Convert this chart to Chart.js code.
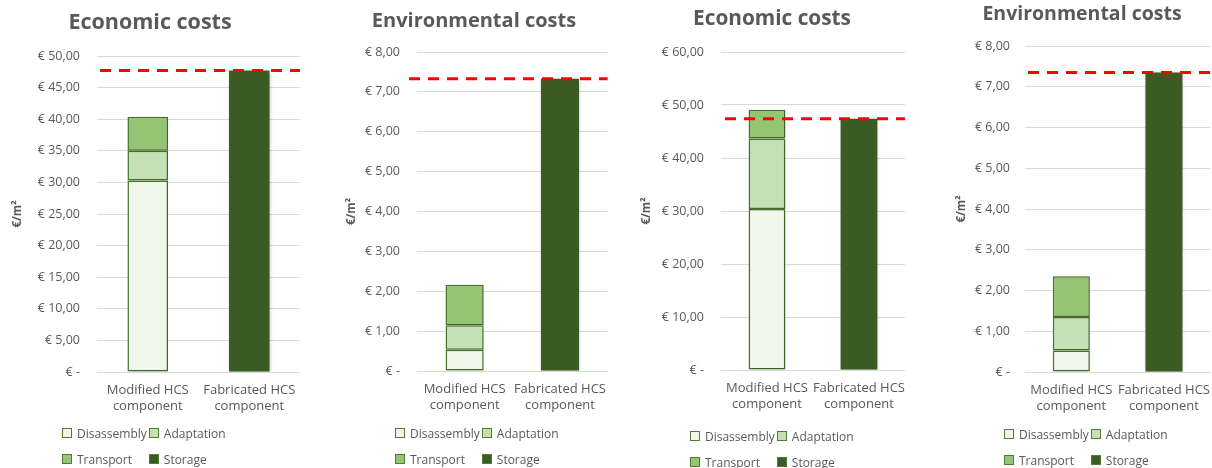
<!DOCTYPE html>
<html>
<head>
<meta charset="utf-8">
<script src="https://cdn.jsdelivr.net/npm/chart.js@4.4.1/dist/chart.umd.min.js"></script>
<style>
  body { margin: 0; width: 1212px; height: 468px; background: #fff; position: relative; overflow: hidden; }
  .panel { position: absolute; top: 0; }
  .legend { position: absolute; display: grid; grid-template-columns: auto auto; column-gap: 2px; row-gap: 8px;
    font-family: 'Open Sans', sans-serif; font-size: 12px; color: #595959; }
  .legend span { display: flex; align-items: center; height: 18px; white-space: nowrap; }
  .legend i { display: inline-block; width: 8px; height: 8px; border: 1px solid #4f7d33; margin-right: 5px; }
</style>
</head>
<body>
<script>
// chart data
const categories = [['Modified HCS', 'component'], ['Fabricated HCS', 'component']];
const seriesNames = ['Disassembly', 'Adaptation', 'Transport', 'Storage'];
const titles = ['Economic costs', 'Environmental costs', 'Economic costs', 'Environmental costs'];
// Disassembly, Adaptation, Transport (modified component) and Storage (fabricated component)
const econ1 = [30.3, 4.7, 5.4, 47.7];
const env1 = [0.53, 0.62, 1.01, 7.33];
const econ2 = [30.4, 13.3, 5.4, 47.4];
const env2 = [0.53, 0.82, 1.0, 7.35];
const refLines = [47.7, 7.33, 47.4, 7.35];
const yMax = [50, 8, 60, 8];
const yStep = [5, 1, 10, 1];

const fills = ['#f0f6ea', '#c5e0b4', '#93c572', '#3b5b24'];
const edge = '#47742c';
const grey = '#595959';

// where each panel sits on the page (chart area left/right/top/bottom)
const panels = [
  { left: 0,   width: 300, areaL: 97,   top: 56, bottom: 372, titleY: 23, titleSize: 21.5, axisPad: 11, tickPad: 17, redFrom: 3,  legendX: 62,   legendY: 424 },
  { left: 340, width: 268, areaL: 417,  top: 52, bottom: 371, titleY: 21, titleSize: 20,   axisPad: 5,  tickPad: 17, redFrom: -8, legendX: 395,  legendY: 424 },
  { left: 637, width: 270, areaL: 721,  top: 52, bottom: 370, titleY: 19, titleSize: 20.8, axisPad: 3,  tickPad: 17, redFrom: 4,  legendX: 690,  legendY: 427 },
  { left: 952, width: 260, areaL: 1025, top: 46, bottom: 372, titleY: 14, titleSize: 19.5, axisPad: 3,  tickPad: 15, redFrom: 3,  legendX: 1004, legendY: 425 }
];
const values = [econ1, env1, econ2, env2];
const canvasH = 430;

const refLinePlugin = {
  id: 'refLine',
  afterDatasetsDraw(chart, args, opts) {
    const { ctx, chartArea, scales } = chart;
    const y = scales.y.getPixelForValue(opts.value);
    ctx.save();
    ctx.strokeStyle = '#ff0000';
    ctx.lineWidth = 3;
    ctx.setLineDash([11, 8]);
    ctx.beginPath();
    ctx.moveTo(chartArea.left + opts.from, y);
    ctx.lineTo(chartArea.right, y);
    ctx.stroke();
    ctx.restore();
  }
};

// soft spreadsheet-style shadow under the bars
const barShadow = {
  id: 'barShadow',
  beforeDatasetsDraw(chart) {
    const ctx = chart.ctx;
    ctx.save();
    ctx.shadowColor = 'rgba(0,0,0,0.22)';
    ctx.shadowBlur = 3;
    ctx.shadowOffsetX = 1;
    ctx.shadowOffsetY = 1;
  },
  afterDatasetsDraw(chart) {
    chart.ctx.restore();
  }
};

function euro(v) {
  if (v === 0) return '€ -';
  return '€ ' + v.toFixed(2).replace('.', ',');
}

panels.forEach((p, k) => {
  const div = document.createElement('div');
  div.className = 'panel';
  div.style.left = p.left + 'px';
  const canvas = document.createElement('canvas');
  canvas.width = p.width;
  canvas.height = canvasH;
  div.appendChild(canvas);
  document.body.appendChild(div);

  const vals = values[k];
  const datasets = seriesNames.map((name, i) => ({
    label: name,
    data: i < 3 ? [vals[i], null] : [null, vals[i]],
    backgroundColor: fills[i],
    borderColor: i < 3 ? edge : fills[i],
    borderWidth: i < 3 ? 1.5 : 0,
    borderSkipped: false,
    barPercentage: 0.4,
    categoryPercentage: 1
  }));

  const titleLH = p.titleSize * 1.2;
  const padTop = p.titleY - titleLH / 2;
  const padBottom = p.top - padTop - titleLH;

  new Chart(canvas.getContext('2d'), {
    type: 'bar',
    data: { labels: categories, datasets: datasets },
    plugins: [barShadow, refLinePlugin],
    options: {
      responsive: false,
      animation: false,
      devicePixelRatio: 1,
      layout: { padding: 0 },
      plugins: {
        legend: { display: false },
        tooltip: { enabled: false },
        title: {
          display: true,
          text: titles[k],
          color: grey,
          font: { family: 'Open Sans', size: p.titleSize, weight: 'bold', lineHeight: 1.2 },
          padding: { top: padTop, bottom: padBottom }
        },
        refLine: { value: refLines[k], from: p.redFrom }
      },
      scales: {
        x: {
          stacked: true,
          grid: { display: false },
          border: { color: '#d9d9d9' },
          ticks: {
            color: grey, padding: 2, maxRotation: 0, minRotation: 0, autoSkip: false,
            font: { family: 'Open Sans', size: 13, lineHeight: 1.25 }
          },
          afterFit: (s) => { s.height = canvasH - p.bottom; }
        },
        y: {
          stacked: true,
          min: 0,
          max: yMax[k],
          border: { display: false },
          grid: { color: '#d9d9d9', drawTicks: false },
          ticks: {
            stepSize: yStep[k],
            color: grey,
            padding: p.tickPad,
            font: { family: 'Open Sans', size: 12.5 },
            callback: (v) => euro(v)
          },
          title: {
            display: true,
            text: '€/m²',
            color: grey,
            font: { family: 'Open Sans', size: 11.5, weight: 'bold', lineHeight: 1.2 },
            padding: { top: p.axisPad, bottom: 0 }
          },
          afterFit: (s) => { s.width = p.areaL - p.left; }
        }
      }
    }
  });

  // legend, two columns like the spreadsheet one
  const leg = document.createElement('div');
  leg.className = 'legend';
  leg.style.left = p.legendX + 'px';
  leg.style.top = p.legendY + 'px';
  seriesNames.forEach((name, i) => {
    const item = document.createElement('span');
    item.innerHTML = `<i style="background:${fills[i]}"></i>${name}`;
    leg.appendChild(item);
  });
  document.body.appendChild(leg);
});
</script>
</body>
</html>
